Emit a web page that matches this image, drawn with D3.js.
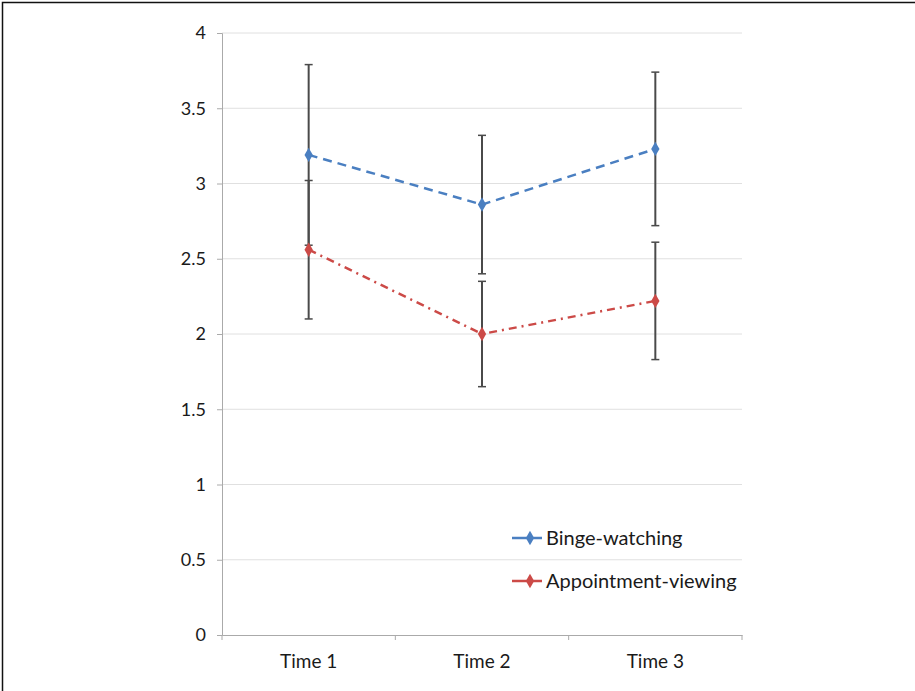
<!DOCTYPE html>
<html lang="en">
<head>
<meta charset="UTF-8">
<title>Binge-watching vs appointment-viewing</title>
<script src="https://d3js.org/d3.v7.min.js"></script>
<style>
    body { margin: 0; background: #fff; }
    text { font-family: "Lato", "Open Sans", sans-serif; fill: #1a1a1a; }
</style>
</head>
<body>
<svg id="chart" width="915" height="691"></svg>
<script>
    // data
    const times = ["Time 1", "Time 2", "Time 3"];
    const bingeMean = [3.19, 2.86, 3.23];
    const bingeErr = [0.60, 0.46, 0.51];
    const apptMean = [2.56, 2.00, 2.22];
    const apptErr = [0.46, 0.35, 0.39];
    const yTicks = [0, 0.5, 1, 1.5, 2, 2.5, 3, 3.5, 4];

    const svg = d3.select("#chart");

    // frame: only top and left edges show
    svg.append("path")
        .attr("d", "M2.5,691V2.5H915")
        .attr("fill", "none").attr("stroke", "#111").attr("stroke-width", 1.5);

    const plotLeft = 222, plotRight = 742, plotTop = 33, plotBottom = 635;
    const x = d3.scaleBand().domain(times).range([plotLeft, plotRight]);
    const y = d3.scaleLinear().domain([0, 4]).range([plotBottom, plotTop]);

    // gridlines
    svg.append("g").selectAll("line")
        .data(yTicks.filter(d => d > 0))
        .enter().append("line")
        .attr("x1", plotLeft).attr("x2", plotRight)
        .attr("y1", d => y(d)).attr("y2", d => y(d))
        .attr("stroke", "#e0e0e0").attr("stroke-width", 1);

    // y axis
    const yAxis = svg.append("g")
        .attr("transform", `translate(${plotLeft},0)`)
        .call(d3.axisLeft(y).tickValues(yTicks).tickSize(5).tickPadding(11)
            .tickFormat(d => String(d)));
    yAxis.select(".domain").attr("stroke", "#aaa");
    yAxis.selectAll(".tick line").attr("stroke", "#aaa");
    yAxis.selectAll("text").style("font-size", "18px").attr("fill", "#1a1a1a");

    // x axis
    const xAxis = svg.append("g")
        .attr("transform", `translate(0,${plotBottom})`)
        .call(d3.axisBottom(x).tickSize(0).tickPadding(20));
    xAxis.select(".domain").attr("stroke", "#aaa");
    xAxis.selectAll("text").style("font-size", "19px").attr("fill", "#1a1a1a");
    // boundary ticks between categories
    const bounds = times.map(t => x(t)).concat([plotRight]);
    xAxis.selectAll(".bound").data(bounds).enter().append("line")
        .attr("class", "bound")
        .attr("x1", d => d).attr("x2", d => d)
        .attr("y1", 0).attr("y2", 5)
        .attr("stroke", "#aaa");

    const cx = t => x(t) + x.bandwidth() / 2;

    const series = [
        { name: "Binge-watching", mean: bingeMean, err: bingeErr, color: "#4a7fc1", dash: "9,6" },
        { name: "Appointment-viewing", mean: apptMean, err: apptErr, color: "#cc4a47", dash: "8,5,2,5" }
    ];

    // error bars
    series.forEach(s => {
        const g = svg.append("g");
        times.forEach((t, i) => {
            const x0 = cx(t);
            const hi = y(s.mean[i] + s.err[i]);
            const lo = y(s.mean[i] - s.err[i]);
            g.append("line").attr("x1", x0).attr("x2", x0).attr("y1", hi).attr("y2", lo)
                .attr("stroke", "#4a4a4a").attr("stroke-width", 2);
            [hi, lo].forEach(v => g.append("line")
                .attr("x1", x0 - 4).attr("x2", x0 + 4).attr("y1", v).attr("y2", v)
                .attr("stroke", "#4a4a4a").attr("stroke-width", 1.5));
        });
    });

    const diamond = d3.symbol().type(d3.symbolDiamond).size(60);

    // lines and markers
    series.forEach(s => {
        const line = d3.line().x((d, i) => cx(times[i])).y(d => y(d));
        svg.append("path").datum(s.mean)
            .attr("d", line).attr("fill", "none")
            .attr("stroke", s.color).attr("stroke-width", 2.5)
            .attr("stroke-dasharray", s.dash);
        svg.append("g").selectAll("path").data(s.mean).enter().append("path")
            .attr("d", diamond)
            .attr("transform", (d, i) => `translate(${cx(times[i])},${y(d)})`)
            .attr("fill", s.color);
    });

    // legend
    const legend = svg.append("g").attr("transform", "translate(512,538)");
    series.forEach((s, i) => {
        const g = legend.append("g").attr("transform", `translate(0,${i * 43})`);
        g.append("line").attr("x1", 0).attr("x2", 30).attr("y1", 0).attr("y2", 0)
            .attr("stroke", s.color).attr("stroke-width", 2.5);
        g.append("path").attr("d", diamond).attr("transform", "translate(18,0)").attr("fill", s.color);
        g.append("text").attr("x", 34).attr("y", 0).attr("dy", "0.35em")
            .style("font-size", "20px").text(s.name);
    });
</script>
</body>
</html>
